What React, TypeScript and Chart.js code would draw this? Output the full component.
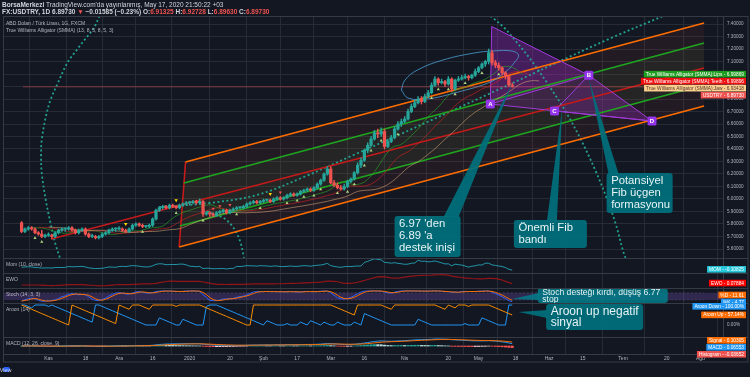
import { useEffect, useRef } from "react";
import { Chart, registerables } from "chart.js";

Chart.register(...registerables);

const FONT = "'Liberation Sans', Arial, sans-serif";

// ---------- texts ----------
const headerBrand = "BorsaMerkezi";
const headerPublished = " TradingView.com'da yayınlanmış, May 17, 2020 21:50:22 +03";
const quoteTexts = ["FX:USDTRY, 1D 6.89730 ", "▼", " −0.01585 (−0.23%) O:", "6.91325", " H:", "6.92728", " L:", "6.89630", " C:", "6.89730"];
const symbolTitle = "ABD Doları / Türk Lirası, 1G, FXCM";
const alligatorTitle = "True Williams Alligator (SMMA) (13, 8, 5, 8, 5, 3)";
const paneTitles = ["Mom (10, close)", "EWO", "Stoch (14, 3, 3)", "Aroon (14)", "MACD (12, 26, close, 9)"];

// ---------- time axis (trading-day index) ----------
const tickIndex = [8, 19, 29, 39, 50, 62, 72, 82, 92, 102, 114, 127, 136, 147, 157, 167, 179, 192, 202];
const tickLabels = ["Kas", "18", "Ara", "16", "2020", "20", "Şub", "17", "Mar", "16", "Nis", "20", "May", "18", "Haz", "15", "Tem", "20", "Ağu"];
const priceTicks = [5.6, 5.7, 5.8, 5.9, 6.0, 6.1, 6.2, 6.3, 6.4, 6.5, 6.6, 6.7, 6.8, 6.9, 7.0, 7.1, 7.2, 7.3, 7.4];

// ---------- daily USDTRY candles (Oct 22 2019 .. May 15 2020) ----------
const opens = [
  5.81, 5.74, 5.76, 5.77, 5.76, 5.73, 5.72, 5.70, 5.71, 5.71,
  5.70, 5.73, 5.75, 5.76, 5.76, 5.77, 5.75, 5.73, 5.75, 5.76,
  5.72, 5.70, 5.70, 5.69, 5.70, 5.72, 5.73, 5.75, 5.76, 5.76,
  5.76, 5.75, 5.74, 5.76, 5.79, 5.80, 5.79, 5.78, 5.78, 5.79,
  5.84, 5.91, 5.93, 5.94, 5.93, 5.95, 5.94, 5.93, 5.95, 5.96,
  5.97, 5.97, 5.98, 5.97, 5.98, 5.88, 5.89, 5.88, 5.87, 5.89,
  5.90, 5.91, 5.89, 5.91, 5.92, 5.93, 5.93, 5.94, 5.96, 5.97,
  5.98, 5.97, 5.98, 5.99, 5.99, 5.98, 6.00, 6.01, 6.00, 6.01,
  6.03, 6.04, 6.03, 6.04, 6.06, 6.07, 6.08, 6.07, 6.09, 6.12,
  6.15, 6.20, 6.24, 6.13, 6.11, 6.09, 6.08, 6.10, 6.14, 6.16,
  6.21, 6.27, 6.31, 6.39, 6.43, 6.48, 6.53, 6.52, 6.54, 6.42,
  6.46, 6.49, 6.56, 6.60, 6.62, 6.64, 6.70, 6.74, 6.77, 6.80,
  6.78, 6.82, 6.85, 6.91, 6.96, 6.93, 6.94, 6.92, 6.96, 6.88,
  6.95, 6.96, 6.97, 6.98, 6.97, 6.99, 7.02, 7.05, 7.08, 7.10,
  7.17, 7.09, 7.07, 7.05, 7.01, 6.98, 6.913,
];
const highs = [
  5.82, 5.77, 5.78, 5.78, 5.77, 5.74, 5.75, 5.72, 5.73, 5.72,
  5.74, 5.76, 5.77, 5.77, 5.78, 5.78, 5.76, 5.76, 5.77, 5.77,
  5.73, 5.72, 5.71, 5.71, 5.73, 5.74, 5.76, 5.77, 5.77, 5.78,
  5.77, 5.76, 5.77, 5.80, 5.81, 5.81, 5.80, 5.79, 5.80, 5.85,
  5.92, 5.94, 5.95, 5.95, 5.96, 5.96, 5.95, 5.96, 5.97, 5.98,
  5.98, 5.99, 5.99, 6.00, 5.99, 5.90, 5.90, 5.89, 5.90, 5.91,
  5.92, 5.92, 5.92, 5.93, 5.94, 5.94, 5.95, 5.97, 5.98, 5.99,
  5.99, 5.99, 6.00, 6.00, 6.00, 6.01, 6.02, 6.02, 6.02, 6.04,
  6.05, 6.05, 6.05, 6.07, 6.08, 6.09, 6.09, 6.10, 6.13, 6.16,
  6.21, 6.26, 6.26, 6.15, 6.13, 6.11, 6.12, 6.15, 6.17, 6.22,
  6.29, 6.33, 6.40, 6.45, 6.50, 6.55, 6.56, 6.57, 6.56, 6.48,
  6.51, 6.58, 6.62, 6.64, 6.66, 6.72, 6.76, 6.79, 6.82, 6.82,
  6.84, 6.87, 6.93, 6.98, 6.97, 6.96, 6.95, 6.98, 6.97, 6.96,
  6.98, 6.99, 7.00, 6.99, 7.00, 7.04, 7.06, 7.09, 7.11, 7.20,
  7.19, 7.11, 7.09, 7.06, 7.02, 6.99, 6.927,
];
const lows = [
  5.73, 5.73, 5.75, 5.75, 5.72, 5.71, 5.69, 5.69, 5.70, 5.68,
  5.69, 5.72, 5.74, 5.74, 5.75, 5.74, 5.72, 5.72, 5.74, 5.71,
  5.69, 5.69, 5.68, 5.68, 5.69, 5.71, 5.72, 5.74, 5.74, 5.75,
  5.74, 5.73, 5.73, 5.75, 5.78, 5.78, 5.77, 5.77, 5.77, 5.78,
  5.83, 5.90, 5.92, 5.92, 5.92, 5.93, 5.92, 5.92, 5.94, 5.95,
  5.95, 5.96, 5.96, 5.96, 5.86, 5.87, 5.86, 5.86, 5.86, 5.88,
  5.89, 5.88, 5.88, 5.90, 5.91, 5.92, 5.92, 5.93, 5.95, 5.96,
  5.96, 5.96, 5.97, 5.98, 5.97, 5.97, 5.99, 5.99, 5.99, 6.00,
  6.02, 6.02, 6.02, 6.03, 6.05, 6.06, 6.06, 6.06, 6.08, 6.11,
  6.14, 6.19, 6.12, 6.10, 6.08, 6.07, 6.07, 6.09, 6.13, 6.15,
  6.20, 6.25, 6.30, 6.37, 6.42, 6.47, 6.49, 6.50, 6.40, 6.41,
  6.45, 6.48, 6.55, 6.58, 6.61, 6.63, 6.69, 6.73, 6.76, 6.76,
  6.77, 6.81, 6.84, 6.90, 6.91, 6.92, 6.90, 6.91, 6.86, 6.87,
  6.94, 6.95, 6.96, 6.95, 6.96, 6.98, 7.01, 7.04, 7.06, 7.08,
  7.07, 7.05, 7.03, 6.99, 6.96, 6.90, 6.896,
];
const closes = [
  5.74, 5.76, 5.77, 5.76, 5.73, 5.72, 5.70, 5.71, 5.71, 5.70,
  5.73, 5.75, 5.76, 5.76, 5.77, 5.75, 5.73, 5.75, 5.76, 5.72,
  5.70, 5.70, 5.69, 5.70, 5.72, 5.73, 5.75, 5.76, 5.76, 5.76,
  5.75, 5.74, 5.76, 5.79, 5.80, 5.79, 5.78, 5.78, 5.79, 5.84,
  5.91, 5.93, 5.94, 5.93, 5.95, 5.94, 5.93, 5.95, 5.96, 5.97,
  5.97, 5.98, 5.97, 5.98, 5.88, 5.89, 5.88, 5.87, 5.89, 5.90,
  5.91, 5.89, 5.91, 5.92, 5.93, 5.93, 5.94, 5.96, 5.97, 5.98,
  5.97, 5.98, 5.99, 5.99, 5.98, 6.00, 6.01, 6.00, 6.01, 6.03,
  6.04, 6.03, 6.04, 6.06, 6.07, 6.08, 6.07, 6.09, 6.12, 6.15,
  6.20, 6.24, 6.13, 6.11, 6.09, 6.08, 6.10, 6.14, 6.16, 6.21,
  6.27, 6.31, 6.39, 6.43, 6.48, 6.53, 6.52, 6.54, 6.42, 6.46,
  6.49, 6.56, 6.60, 6.62, 6.64, 6.70, 6.74, 6.77, 6.80, 6.78,
  6.82, 6.85, 6.91, 6.96, 6.93, 6.94, 6.92, 6.96, 6.88, 6.95,
  6.96, 6.97, 6.98, 6.97, 6.99, 7.02, 7.05, 7.08, 7.10, 7.17,
  7.09, 7.07, 7.05, 7.01, 6.98, 6.913, 6.897,
];
const lastClose = 6.8973;

// marker bars (fractal-style flags)
const upMarkerBars = [4, 6, 36, 46, 54, 64, 71, 79, 82, 84, 87, 89, 94, 97, 99, 102, 104, 107, 112, 122, 124, 127, 129, 132, 137, 142];
const sellMarkerBars = [57, 59, 62, 77];
const yellowMarkerBars = [31, 46, 74];

// ---------- drawings (trading-day index, price) ----------
const channelOuterTop = [[48.8, 6.296], [203.1, 7.408]];
const channelInnerTop = [[48.3, 6.128], [203.1, 7.248]];
const channelMid = [[8.85, 5.68], [203.1, 7.048]];
const channelInnerBot = [[47.1, 5.784], [203.1, 6.912]];
const channelOuterBot = [[46.9, 5.616], [203.1, 6.744]];
const channelEdge = [[48.8, 6.296], [46.9, 5.616]];

const leftArc = [[23.2, 7.464], [21.5, 7.368], [18.7, 7.272], [16.4, 7.192], [13.6, 7.088], [10.8, 6.928], [8.6, 6.792], [7.2, 6.656], [6.0, 6.472], [5.8, 6.352], [6.0, 6.208], [7.2, 5.992], [8.6, 5.808], [10.0, 5.648], [11.4, 5.53]];
const rightArc = [[139.5, 7.464], [140.3, 7.448], [143.7, 7.368], [146.8, 7.272], [151.6, 7.112], [157.2, 6.896], [162.0, 6.696], [166.5, 6.472], [170.7, 6.232], [174.1, 6.008], [176.9, 5.792], [178.9, 5.592], [179.7, 5.53]];
const innerArc = [[53.9, 5.912], [57.3, 5.88], [60.6, 5.84], [63.5, 5.752], [65.2, 5.648], [66.2, 5.53]];
const speedLine = [[40.9, 5.936], [55.9, 5.968], [70.0, 6.032], [84.0, 6.176], [98.1, 6.344], [112.2, 6.512], [140.3, 6.856], [174.1, 7.272], [193.8, 7.496]];
const topEllipse = [[113.0, 6.872], [114.1, 6.952], [117.8, 7.032], [125.4, 7.112], [134.7, 7.168], [140.3, 7.184], [145.9, 7.184], [147.9, 7.152], [146.8, 7.096], [144.0, 7.016], [139.5, 6.936], [129.9, 6.856], [120.6, 6.8], [115.0, 6.808], [113.0, 6.872]];

const patternX = [139.9, 7.38];
const patternA = [139.5, 6.76];
const patternB = [168.8, 6.99];
const patternC = [158.6, 6.704];
const patternD = [187.6, 6.624];

// ---------- right-axis value labels ----------
const mainLabels = [
  { t: "True Williams Alligator (SMMA):Lips - 6.99869", v: 6.99869, bg: "#1e9e1e", fg: "#ffffff" },
  { t: "True Williams Alligator (SMMA):Teeth - 6.99896", v: 6.99896, bg: "#f01010", fg: "#ffffff" },
  { t: "True Williams Alligator (SMMA):Jaw - 6.93418", v: 6.93418, bg: "#fbd08f", fg: "#4e342e" },
  { t: "USDTRY - 6.89730", v: 6.8973, bg: "#ef5350", fg: "#ffffff" },
];
const momLabels = [{ t: "MOM - -0.10825", v: -0.10825, bg: "#26c6da", fg: "#ffffff" }];
const ewoLabels = [{ t: "EWO - 0.07884", v: 0.07884, bg: "#ff0000", fg: "#ffffff" }];
const stochLabels = [
  { t: "%D - 11.61", v: 11.61, bg: "#ff6d00", fg: "#ffffff" },
  { t: "%K - 4.77", v: 4.77, bg: "#2196f3", fg: "#ffffff" },
];
const aroonLabels = [
  { t: "Aroon Down - 100.00%", v: 100, bg: "#2196f3", fg: "#ffffff" },
  { t: "Aroon Up - 57.14%", v: 57.14, bg: "#ff6d00", fg: "#ffffff" },
];
const macdLabels = [
  { t: "Signal - 0.10305", v: 0.10305, bg: "#ff6d00", fg: "#ffffff" },
  { t: "MACD - 0.06553", v: 0.06553, bg: "#2196f3", fg: "#ffffff" },
  { t: "Histogram - -0.03652", v: -0.03652, bg: "#ef5350", fg: "#ffffff" },
];

// ---------- callouts ----------
const callouts = [
  { axis: "y", lines: ["6.97 'den", "6.89 'a", "destek inişi"], at: [111.0, 5.864], w: 66, h: 41, tip: [146.2, 6.936], base: [[49, 1], [64, 1]], size: 11.3, lh: 12, ty: 8, bg: "rgba(0,112,124,0.93)" },
  { axis: "y", lines: ["Önemli Fib", "bandı"], at: [146.5, 5.832], w: 73, h: 28, tip: [160.9, 6.728], base: [[33, 1], [43, 1]], size: 11.3, lh: 12, ty: 8, bg: "rgba(0,112,124,0.93)" },
  { axis: "y", lines: ["Potansiyel", "Fib üçgen", "formasyonu"], at: [174.1, 6.208], w: 66, h: 40, tip: [168.8, 6.96], base: [[2, 1], [12, 1]], size: 11.3, lh: 12, ty: 8, bg: "rgba(0,112,124,0.93)" },
  { axis: "stoch", lines: ["Stoch desteği kırdı, düşüş 6.77", "stop"], at: [153.6, 120], w: 130, h: 15, tip: [146.0, 28], base: [[1, 5], [1, 12]], size: 8.6, lh: 7.6, ty: 4.2, bg: "rgba(0,128,140,0.82)" },
  { axis: "aroon", lines: ["Aroon up negatif", "sinyal"], at: [156.1, 105], w: 97, h: 26, tip: [147.9, 65], base: [[1, 6], [1, 14]], size: 12, lh: 11, ty: 8, bg: "rgba(0,112,124,0.93)" },
];

// ---------- indicator helpers ----------
function smma(src: number[], n: number) {
  const out: number[] = [];
  let v = src[0];
  src.forEach((s, i) => { v = i === 0 ? s : (v * (n - 1) + s) / n; out.push(v); });
  return out;
}
function ema(src: number[], n: number) {
  const k = 2 / (n + 1);
  const out: number[] = [];
  let v = src[0];
  src.forEach((s, i) => { v = i === 0 ? s : s * k + v * (1 - k); out.push(v); });
  return out;
}
function sma(src: number[], n: number) {
  return src.map((_, i) => {
    const a = src.slice(Math.max(0, i - n + 1), i + 1);
    return a.reduce((p, c) => p + c, 0) / a.length;
  });
}

export default function App() {
  const ref = useRef<HTMLCanvasElement | null>(null);

  useEffect(() => {
    document.body.style.margin = "0";
    document.body.style.background = "#131722";
    const canvas = ref.current;
    if (!canvas) return;

    const GREEN = "#26a69a";
    const RED = "#ef5350";

    // indicators (definitions from the pane legends)
    const hl2 = highs.map((h, i) => (h + lows[i]) / 2);
    const jaw = smma(hl2, 13), teeth = smma(hl2, 8), lips = smma(hl2, 5);
    const mom = closes.map((c, i) => c - closes[Math.max(0, i - 10)]);
    const sma5 = sma(closes, 5), sma35 = sma(closes, 35);
    const ewo = sma5.map((v, i) => v - sma35[i]);
    const rawK = closes.map((c, i) => {
      const s = Math.max(0, i - 13);
      const hh = Math.max(...highs.slice(s, i + 1));
      const ll = Math.min(...lows.slice(s, i + 1));
      return hh === ll ? 50 : (100 * (c - ll)) / (hh - ll);
    });
    const stochK = sma(rawK, 3);
    const stochD = sma(stochK, 3);
    const aroonUp = closes.map((_, i) => {
      const s = Math.max(0, i - 14);
      let hi = s;
      for (let j = s; j <= i; j++) if (highs[j] >= highs[hi]) hi = j;
      return (100 * (14 - (i - hi))) / 14;
    });
    const aroonDown = closes.map((_, i) => {
      const s = Math.max(0, i - 14);
      let lo = s;
      for (let j = s; j <= i; j++) if (lows[j] <= lows[lo]) lo = j;
      return (100 * (14 - (i - lo))) / 14;
    });
    const e12 = ema(closes, 12), e26 = ema(closes, 26);
    const macd = e12.map((v, i) => v - e26[i]);
    const signal = ema(macd, 9);
    const hist = macd.map((v, i) => v - signal[i]);

    const momMin = Math.min(...mom), momMax = Math.max(...mom);
    const ewoMin = Math.min(...ewo), ewoMax = Math.max(...ewo);
    const macdPeak = Math.max(...macd.map(Math.abs), ...signal.map(Math.abs));

    const P = (arr: number[][]) => arr.map(([x, y]) => ({ x, y }));
    const series = (arr: number[], shift = 0) => arr.map((y, i) => ({ x: i + shift, y }));
    const line = (data: any[], color: string, width: number, extra: any = {}) => ({
      type: "line", data, borderColor: color, borderWidth: width, pointRadius: 0,
      fill: false, tension: 0, yAxisID: "y", order: 10, ...extra,
    });

    const datasets: any[] = [
      {
        type: "bar", data: closes.map((c, i) => ({ x: i, y: [opens[i], c] })),
        backgroundColor: (c: any) => (closes[c.dataIndex] >= opens[c.dataIndex] ? GREEN : RED),
        barThickness: 2.6, grouped: false, minBarLength: 1, yAxisID: "y", order: 1,
      },
      {
        type: "bar", data: closes.map((_, i) => ({ x: i, y: [lows[i], highs[i]] })),
        backgroundColor: (c: any) => (closes[c.dataIndex] >= opens[c.dataIndex] ? GREEN : RED),
        barThickness: 0.8, grouped: false, yAxisID: "y", order: 2,
      },
      // alligator
      line(series(jaw, 8), "rgba(205,160,115,0.6)", 1, { order: 5 }),
      line(series(teeth, 5), "rgba(200,35,35,0.65)", 1, { order: 5 }),
      line(series(lips, 3), "rgba(40,160,40,0.65)", 1, { order: 5 }),
      // last price line
      line(P([[0.4, lastClose], [203.1, lastClose]]), "rgba(239,83,80,0.45)", 1, { order: 6 }),
      // channel
      line(P(channelOuterTop), "#ff6d00", 1.6),
      line(P(channelOuterBot), "#ff6d00", 1.6),
      line(P(channelInnerTop), "#1fa51f", 1.6),
      line(P(channelInnerBot), "#1fa51f", 1.6),
      line(P(channelMid), "#c41a1a", 1.6),
      line(P(channelEdge), "#c41a1a", 1.6),
      // dotted fib curves
      line(P(leftArc), "#22a190", 1.8, { borderDash: [2, 2.5], tension: 0.35 }),
      line(P(rightArc), "#22a190", 1.8, { borderDash: [2, 2.5], tension: 0.35 }),
      line(P(innerArc), "#22a190", 1.8, { borderDash: [2, 2.5], tension: 0.35 }),
      line(P(speedLine), "#22a190", 1.8, { borderDash: [2, 2.5], tension: 0.35 }),
      line(P(topEllipse), "rgba(70,150,200,0.85)", 1, { tension: 0.4, order: 7 }),
      // harmonic pattern
      line(P([patternX, patternA, patternB, patternC, patternD]), "#a03ad8", 1, { order: 8 }),
      line(P([patternX, patternB, patternD]), "#a03ad8", 1, { order: 8 }),
      line(P([patternA, patternD]), "#a03ad8", 1, { order: 8 }),
      // markers
      {
        type: "line", data: upMarkerBars.map((i) => ({ x: i, y: lows[i] - 0.032 })), showLine: false,
        pointStyle: "triangle", pointRadius: 1.8, pointBackgroundColor: "#aed581", pointBorderWidth: 0, yAxisID: "y", order: 3,
      },
      {
        type: "line", data: sellMarkerBars.map((i) => ({ x: i, y: highs[i] + 0.032 })), showLine: false,
        pointStyle: "triangle", pointRotation: 180, pointRadius: 1.8, pointBackgroundColor: "#ef5350", pointBorderWidth: 0, yAxisID: "y", order: 3,
      },
      {
        type: "line", data: yellowMarkerBars.map((i) => ({ x: i, y: highs[i] + 0.04 })), showLine: false,
        pointStyle: "triangle", pointRotation: 180, pointRadius: 2, pointBackgroundColor: "#ffd600", pointBorderWidth: 0, yAxisID: "y", order: 3,
      },
      // sub panes
      line(series(mom), "rgba(38,180,200,0.8)", 1, { yAxisID: "mom" }),
      line(series(ewo), "rgba(200,20,20,0.7)", 1.2, { yAxisID: "ewo" }),
      line(P([[0.4, 80], [203.1, 80]]), "rgba(120,123,134,0.5)", 0.6, { yAxisID: "stoch", borderDash: [2, 2] }),
      line(P([[0.4, 20], [203.1, 20]]), "rgba(120,123,134,0.5)", 0.6, { yAxisID: "stoch", borderDash: [2, 2] }),
      line(series(stochD), "#ff6d00", 1, { yAxisID: "stoch" }),
      line(series(stochK), "#2962ff", 1, { yAxisID: "stoch" }),
      line(series(aroonUp), "#fb8c00", 1, { yAxisID: "aroon" }),
      line(series(aroonDown), "#2196f3", 1, { yAxisID: "aroon" }),
      line(series(signal), "#ff6d00", 1, { yAxisID: "macd", order: 9 }),
      line(series(macd), "#2196f3", 1, { yAxisID: "macd", order: 9 }),
      {
        type: "bar", data: series(hist), yAxisID: "macd", barThickness: 2.4, grouped: false, order: 11,
        backgroundColor: (c: any) => {
          const i = c.dataIndex;
          const h = hist[i], prev = i > 0 ? hist[i - 1] : h;
          if (h >= 0) return h >= prev ? "#26a69a" : "#b2dfdb";
          return h <= prev ? "#ff5252" : "#ffcdd2";
        },
      },
    ];

    const tickFont = { size: 4.6, family: FONT };
    const fixedWidth = (s: any) => { s.width = 27; };
    const subAxis = (weight: number, min: number, max: number, extra: any = {}) => ({
      type: "linear", position: "right", stack: "panes", stackWeight: weight, min, max,
      afterFit: fixedWidth,
      grid: { display: false, drawTicks: false },
      border: { display: true, color: "#363a45" },
      ticks: { display: false },
      ...extra,
    });
    const zeroTick = (label: string) => ({
      afterBuildTicks: (s: any) => { s.ticks = [{ value: 0 }]; },
      ticks: { display: true, autoSkip: false, callback: () => label, color: "#b2b5be", font: tickFont, padding: 4 },
    });

    const pix = (chart: any, axis: string, i: number, v: number) => [chart.scales.x.getPixelForValue(i), chart.scales[axis].getPixelForValue(v)];

    function roundRect(ctx: CanvasRenderingContext2D, x: number, y: number, w: number, h: number, r: number) {
      ctx.beginPath();
      ctx.moveTo(x + r, y);
      ctx.lineTo(x + w - r, y);
      ctx.quadraticCurveTo(x + w, y, x + w, y + r);
      ctx.lineTo(x + w, y + h - r);
      ctx.quadraticCurveTo(x + w, y + h, x + w - r, y + h);
      ctx.lineTo(x + r, y + h);
      ctx.quadraticCurveTo(x, y + h, x, y + h - r);
      ctx.lineTo(x, y + r);
      ctx.quadraticCurveTo(x, y, x + r, y);
      ctx.closePath();
    }

    function axisLabels(ctx: CanvasRenderingContext2D, scale: any, labels: any[]) {
      const h = 6.6;
      let ys = labels.map((l) => scale.getPixelForValue(l.v));
      for (let k = 1; k < ys.length; k++) ys[k] = Math.max(ys[k], ys[k - 1] + h + 0.4);
      const over = ys[ys.length - 1] - (scale.bottom - 1);
      if (over > 0) ys = ys.map((y) => y - over);
      const under = scale.top + h / 2 - ys[0];
      if (under > 0) ys = ys.map((y) => y + under);
      ctx.font = `4.8px ${FONT}`;
      ctx.textBaseline = "middle";
      ctx.textAlign = "right";
      labels.forEach((l, k) => {
        const w = ctx.measureText(l.t).width + 4;
        ctx.fillStyle = l.bg;
        ctx.fillRect(746 - w, ys[k] - h / 2, w, h);
        ctx.fillStyle = l.fg;
        ctx.fillText(l.t, 744, ys[k] + 0.3);
      });
    }

    const plugin = {
      id: "tvDrawings",
      beforeDraw(chart: any) {
        const ctx = chart.ctx;
        ctx.save();
        ctx.fillStyle = "#131722";
        ctx.fillRect(0, 0, chart.width, chart.height);
        ctx.restore();
      },
      beforeDatasetsDraw(chart: any) {
        const { ctx, chartArea: a, scales } = chart;
        const poly = (pts: number[][], fill: string) => {
          ctx.beginPath();
          pts.forEach(([i, p], k) => {
            const [x, y] = pix(chart, "y", i, p);
            if (k) ctx.lineTo(x, y); else ctx.moveTo(x, y);
          });
          ctx.closePath();
          ctx.fillStyle = fill;
          ctx.fill();
        };
        ctx.save();
        ctx.beginPath();
        ctx.rect(a.left, scales.y.top, a.right - a.left, scales.y.bottom - scales.y.top);
        ctx.clip();
        poly([channelOuterTop[0], channelOuterTop[1], channelOuterBot[1], channelOuterBot[0]], "rgba(255,90,50,0.07)");
        poly([channelInnerTop[0], channelInnerTop[1], channelInnerBot[1], channelInnerBot[0]], "rgba(60,200,60,0.06)");
        poly([patternX, patternA, patternB], "rgba(150,40,190,0.38)");
        poly([patternA, patternB, patternC], "rgba(150,40,190,0.22)");
        poly([patternB, patternC, patternD], "rgba(150,40,190,0.32)");
        ctx.restore();
        const s = scales.stoch;
        const y80 = s.getPixelForValue(80), y20 = s.getPixelForValue(20);
        ctx.save();
        ctx.fillStyle = "rgba(126,87,194,0.28)";
        ctx.fillRect(a.left, y80, a.right - a.left, y20 - y80);
        ctx.restore();
      },
      afterDatasetsDraw(chart: any) {
        const ctx: CanvasRenderingContext2D = chart.ctx;
        ctx.save();
        // pattern point labels
        const pl: [string, number[]][] = [["A", patternA], ["B", patternB], ["C", patternC], ["D", patternD]];
        pl.forEach(([t, pt]) => {
          const [x, y] = pix(chart, "y", pt[0], pt[1]);
          roundRect(ctx, x - 4.5, y - 4.5, 9, 9, 1.5);
          ctx.fillStyle = "#9333ea";
          ctx.fill();
          ctx.fillStyle = "#ffffff";
          ctx.font = `bold 6px ${FONT}`;
          ctx.textAlign = "center";
          ctx.textBaseline = "middle";
          ctx.fillText(t, x, y + 0.3);
        });
        // callouts
        callouts.forEach((c) => {
          const [bx, by] = pix(chart, c.axis, c.at[0], c.at[1]);
          const [tx, ty] = pix(chart, c.axis, c.tip[0], c.tip[1]);
          ctx.fillStyle = c.bg;
          ctx.beginPath();
          ctx.moveTo(bx + c.base[0][0], by + c.base[0][1]);
          ctx.lineTo(tx, ty);
          ctx.lineTo(bx + c.base[1][0], by + c.base[1][1]);
          ctx.closePath();
          ctx.fill();
          roundRect(ctx, bx, by, c.w, c.h, 3);
          ctx.fill();
          ctx.fillStyle = "#e8f4f5";
          ctx.font = `${c.size}px ${FONT}`;
          ctx.textAlign = "left";
          ctx.textBaseline = "middle";
          c.lines.forEach((t, k) => ctx.fillText(t, bx + 4.5, by + c.ty + k * c.lh));
        });
        ctx.restore();
      },
      afterDraw(chart: any) {
        const ctx: CanvasRenderingContext2D = chart.ctx;
        const sc = chart.scales;
        ctx.save();
        // pane separators & frame
        ctx.strokeStyle = "#363a45";
        ctx.lineWidth = 1;
        ["mom", "ewo", "stoch", "aroon", "macd"].forEach((k) => {
          const y = Math.round(sc[k].top) + 0.5;
          ctx.beginPath(); ctx.moveTo(3, y); ctx.lineTo(748, y); ctx.stroke();
        });
        ctx.strokeRect(3.5, 16.5, 744.5, 345.5);
        // header
        ctx.textBaseline = "middle";
        ctx.textAlign = "left";
        let x = 2;
        ctx.fillStyle = "#d1d4dc";
        ctx.font = `bold 6.5px ${FONT}`;
        ctx.fillText(headerBrand, x, 5);
        x += ctx.measureText(headerBrand).width;
        ctx.font = `6.5px ${FONT}`;
        ctx.fillText(headerPublished, x, 5);
        x = 2;
        ctx.font = `bold 6.5px ${FONT}`;
        quoteTexts.forEach((t, k) => {
          ctx.fillStyle = k === 1 || (k >= 3 && k % 2 === 1) ? "#ef5350" : "#d1d4dc";
          ctx.fillText(t, x, 12.5);
          x += ctx.measureText(t).width;
        });
        // legends
        ctx.fillStyle = "#b2b5be";
        ctx.font = `5px ${FONT}`;
        ctx.fillText(symbolTitle, 6, 23.5);
        ctx.fillText(alligatorTitle, 6, 30.5);
        ["mom", "ewo", "stoch", "aroon", "macd"].forEach((k, i) => {
          ctx.fillText(paneTitles[i], 6, sc[k].top + 6.5);
        });
        // right-axis value labels
        axisLabels(ctx, sc.y, mainLabels);
        axisLabels(ctx, sc.mom, momLabels);
        axisLabels(ctx, sc.ewo, ewoLabels);
        axisLabels(ctx, sc.stoch, stochLabels);
        axisLabels(ctx, sc.aroon, aroonLabels);
        axisLabels(ctx, sc.macd, macdLabels);
        // logo
        ctx.fillStyle = "#2962ff";
        roundRect(ctx, 3, 367, 7, 5, 2);
        ctx.fill();
        ctx.fillStyle = "#d1d4dc";
        ctx.font = `5.5px ${FONT}`;
        ctx.fillText("TradingView", 11.5, 370);
        ctx.restore();
      },
    };

    const chart = new Chart(canvas, {
      type: "bar",
      data: { datasets },
      plugins: [plugin],
      options: {
        animation: false,
        responsive: false,
        devicePixelRatio: 1,
        events: [],
        layout: { padding: { left: 3, top: 16, right: 0, bottom: 0 } },
        plugins: { legend: { display: false }, tooltip: { enabled: false } },
        scales: {
          x: {
            type: "linear", position: "bottom", min: 0.4, max: 203.1,
            afterBuildTicks: (s: any) => { s.ticks = tickIndex.map((v) => ({ value: v })); },
            afterFit: (s: any) => { s.height = 23; },
            ticks: {
              autoSkip: false, maxRotation: 0, padding: 1.5, color: "#b2b5be", font: { size: 5, family: FONT },
              callback: (v: any) => { const k = tickIndex.indexOf(Number(v)); return k >= 0 ? tickLabels[k] : ""; },
            },
            grid: { color: "rgba(42,46,57,0.9)", drawTicks: false },
            border: { display: true, color: "#363a45" },
          },
          y: {
            type: "linear", position: "right", stack: "panes", stackWeight: 242, min: 5.528, max: 7.464,
            afterBuildTicks: (s: any) => { s.ticks = priceTicks.map((v) => ({ value: v })); },
            afterFit: fixedWidth,
            ticks: { autoSkip: false, color: "#b2b5be", font: tickFont, padding: 4, callback: (v: any) => Number(v).toFixed(5) },
            grid: { color: "rgba(42,46,57,0.9)", drawTicks: false },
            border: { display: true, color: "#363a45" },
          },
          mom: subAxis(15, momMin - 0.25 * (momMax - momMin), momMax + 0.08 * (momMax - momMin)),
          ewo: subAxis(15, ewoMin - 0.2 * (ewoMax - ewoMin), ewoMax + 0.15 * (ewoMax - ewoMin)),
          stoch: subAxis(15, -5, 120),
          aroon: subAxis(34, -60, 110, zeroTick("0.00%")),
          macd: subAxis(17, -1.14 * macdPeak, 1.29 * macdPeak, zeroTick("0.00000")),
        },
      } as any,
    } as any);

    return () => chart.destroy();
  }, []);

  return <canvas ref={ref} width={750} height={377} style={{ display: "block" }} />;
}
